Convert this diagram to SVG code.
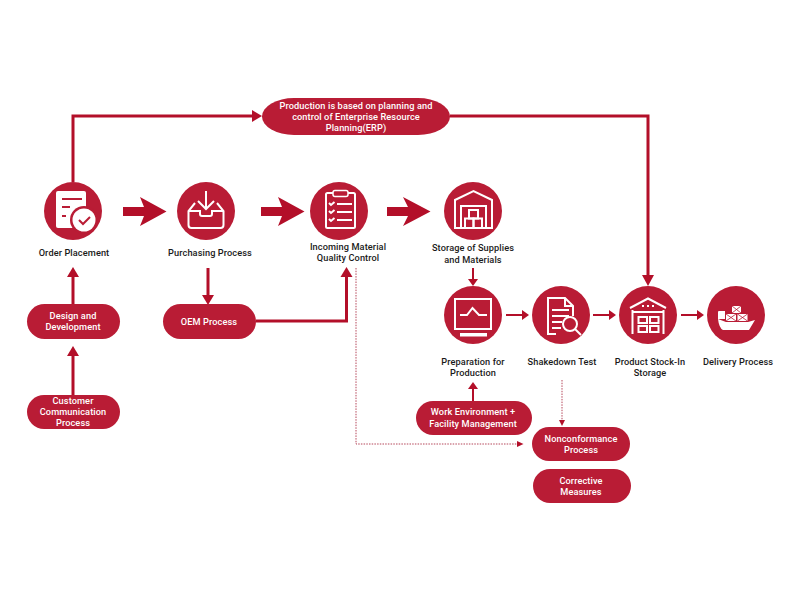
<svg xmlns="http://www.w3.org/2000/svg" width="800" height="600" viewBox="0 0 800 600">
<style>
text{font-family:Roboto,"Liberation Sans",sans-serif;font-size:9.2px;font-weight:500;text-anchor:middle;letter-spacing:.1px}
.lb{fill:#1a1a1a}.wt{fill:#fff}
.c,.p{fill:#b91c35}
.l{fill:none;stroke:#b30f29;stroke-width:3}
.t{fill:none;stroke:#b30f29;stroke-width:2}
.d{fill:none;stroke:#b5475a;stroke-width:1;stroke-dasharray:1.5 1.2}
.h{fill:#b30f29}
.s{fill:none;stroke:#fff;stroke-width:2}
.f{fill:#fff}
.r{fill:none;stroke:#b91c35;stroke-width:2}
</style>
<g id="connectors">
<path class="l" d="M73 182V116H254"/><path class="h" d="M252 110L262 116L252 122Z"/>
<path class="l" d="M450 116H648V277"/><path class="h" d="M642 275L654 275L648 286Z"/>
<path class="h" d="M123 207H144L140 197L166.500 211.500L140 226L144 216H123Z"/>
<path class="h" d="M261 207H282L278 197L304.500 211.500L278 226L282 216H261Z"/>
<path class="h" d="M387 207H408L403 197L430.500 211.500L403 226L408 216H387Z"/>
<path class="l" d="M73 304V276"/><path class="h" d="M67 277L73 267L79 277Z"/>
<path class="l" d="M73 395V355"/><path class="h" d="M67 356L73 346L79 356Z"/>
<path class="l" d="M208 268V296"/><path class="h" d="M202 295L214 295L208 305Z"/>
<path class="l" d="M256 321H346.500V276"/><path class="h" d="M340.500 277L346.500 267L352.500 277Z"/>
<path class="t" d="M473 268V280"/><path class="h" d="M468 279L478 279L473 286Z"/>
<path class="t" d="M473 401V388"/><path class="h" d="M468 389L473 382L478 389Z"/>
<path class="t" d="M506 315H523"/><path class="h" d="M522 310L529 315L522 320Z"/>
<path class="t" d="M593 315H610"/><path class="h" d="M609 310L616 315L609 320Z"/>
<path class="t" d="M681 315H698"/><path class="h" d="M697 310L704 315L697 320Z"/>
<path class="d" d="M356 268V444H518"/><path class="h" d="M517 441L523.500 444L517 447Z"/>
<path class="d" d="M562 380V420"/><path class="h" d="M559 420L565 420L562 426Z"/>
</g>
<g id="erp"><rect class="p" x="262" y="98" width="188" height="37" rx="32" ry="18.500"/>
<text class="wt" x="356" y="109">Production is based on planning and</text><text class="wt" x="356" y="120">control of Enterprise Resource</text><text class="wt" x="356" y="131">Planning(ERP)</text></g>
<g id="order"><circle class="c" cx="73" cy="211" r="29"/>
<rect class="f" x="56" y="191" width="30" height="37" rx="2"/>
<path class="r" d="M62 199H82M62 207H70M62 216H66"/>
<circle cx="84" cy="220" r="14" fill="#b91c35"/><circle cx="84" cy="220" r="11.500" fill="#fff"/>
<path d="M79 220L83 224L90 217" fill="none" stroke="#b91c35" stroke-width="2"/>
<text class="lb" x="74" y="256">Order Placement</text></g>
<g id="purchasing"><circle class="c" cx="206" cy="211" r="29"/>
<path class="s" d="M195 203L188.500 211V225Q188.500 228 191.500 228H220.500Q223.500 228 223.500 225V211L217 203M188.500 211H200V214Q200 216 202 216H210Q212 216 212 214V211H223.500"/>
<path class="s" stroke-width="2.500" d="M206 191V209M198 201L206 209L214 201"/>
<text class="lb" x="210" y="256">Purchasing Process</text></g>
<g id="incoming"><circle class="c" cx="339" cy="211" r="29"/>
<rect class="s" x="326" y="193" width="29" height="35" rx="1.500"/>
<rect x="333" y="190.500" width="15" height="6" rx="2" fill="#b91c35" stroke="#fff" stroke-width="1.500"/>
<path class="s" d="M337 204H352M337 212H352M337 220H352"/>
<path class="s" stroke-width="1.500" d="M329 203L331 205L334.500 202M329 211L331 213L334.500 210M329 219L331 221L334.500 218"/>
<text class="lb" x="348" y="250">Incoming Material</text><text class="lb" x="348" y="261">Quality Control</text></g>
<g id="storage"><circle class="c" cx="473" cy="211" r="29"/>
<path class="s" d="M455 228V200L473.500 191L492 200V228Z"/>
<path class="s" d="M461 228V206H486V228"/>
<rect class="s" stroke-width="1.500" x="469" y="210" width="9" height="8.500"/>
<rect class="s" stroke-width="1.500" x="465" y="218.500" width="8.500" height="9.500"/>
<rect class="s" stroke-width="1.500" x="473.500" y="218.500" width="8.500" height="9.500"/>
<text class="lb" x="473" y="251">Storage of Supplies</text><text class="lb" x="473" y="263">and Materials</text></g>
<g id="preparation"><circle class="c" cx="473" cy="315" r="29"/>
<rect class="s" x="455" y="299" width="36" height="30" stroke-width="2.500"/>
<rect class="f" x="460" y="333" width="27" height="3.500"/>
<path class="s" d="M460 315H467L472.500 308L479 315H487"/>
<text class="lb" x="473" y="365">Preparation for</text><text class="lb" x="473" y="376">Production</text></g>
<g id="shakedown"><circle class="c" cx="561" cy="315" r="29"/>
<path class="s" d="M556 334H548V298H565L573 306V316M565 298V306H573"/>
<path class="s" d="M552 310H569M552 316H569M552 322H562M552 328H561"/>
<circle cx="570" cy="324" r="7" fill="#b91c35" stroke="#fff" stroke-width="2"/>
<path class="s" stroke-width="2.500" d="M575 329L581 335"/>
<text class="lb" x="562" y="365">Shakedown Test</text></g>
<g id="stock"><circle class="c" cx="648" cy="315" r="29"/>
<path class="s" stroke-width="2.500" d="M630 308L648 298.500L666 308"/>
<path class="s" stroke-width="2.500" d="M632.500 334V310M663.500 334V310M632.500 312H663.500"/>
<path d="M642 306H644M647 306H649M652 306H654" stroke="#fff" stroke-width="2" fill="none"/>
<rect class="s" stroke-width="1.500" x="638.500" y="317" width="8.500" height="6"/><rect class="s" stroke-width="1.500" x="650" y="317" width="8.500" height="6"/>
<rect class="s" stroke-width="1.500" x="638.500" y="326" width="8.500" height="6"/><rect class="s" stroke-width="1.500" x="650" y="326" width="8.500" height="6"/>
<text class="lb" x="650" y="365">Product Stock-In</text><text class="lb" x="650" y="376">Storage</text></g>
<g id="delivery"><circle class="c" cx="736" cy="315" r="29"/>
<path class="f" d="M718 312Q718 311 719 311H725V319L718 319Z"/>
<path class="f" d="M718 319L726 322H748L755 320L749 330H723Q719 328 718 319Z"/>
<rect class="f" x="732" y="306" width="9" height="7"/><rect class="f" x="726" y="314" width="10" height="7"/><rect class="f" x="737.500" y="314" width="10" height="7"/>
<path d="M732 306L741 313M741 306L732 313M726 314L736 321M736 314L726 321M737.500 314L747.500 321M747.500 314L737.500 321" stroke="#b91c35" stroke-width=".8" fill="none"/>
<text class="lb" x="738" y="365">Delivery Process</text></g>
<g id="design"><rect class="p" x="27" y="304" width="93" height="35" rx="17.500"/><text class="wt" x="73" y="319">Design and</text><text class="wt" x="73" y="330">Development</text></g>
<g id="customer"><rect class="p" x="27" y="395" width="93" height="34" rx="17"/><text class="wt" x="73" y="404">Customer</text><text class="wt" x="73" y="415">Communication</text><text class="wt" x="73" y="426">Process</text></g>
<g id="oem"><rect class="p" x="163" y="304" width="93" height="35" rx="17.500"/><text class="wt" x="209" y="325">OEM Process</text></g>
<g id="work"><rect class="p" x="416" y="401" width="116" height="34" rx="17"/><text class="wt" x="473" y="415">Work Environment +</text><text class="wt" x="473" y="427">Facility Management</text></g>
<g id="nonconformance"><rect class="p" x="532" y="427" width="98" height="34" rx="17"/><text class="wt" x="581" y="442">Nonconformance</text><text class="wt" x="581" y="453">Process</text></g>
<g id="corrective"><rect class="p" x="533" y="469" width="98" height="34" rx="17"/><text class="wt" x="581" y="484">Corrective</text><text class="wt" x="581" y="495">Measures</text></g>
</svg>
